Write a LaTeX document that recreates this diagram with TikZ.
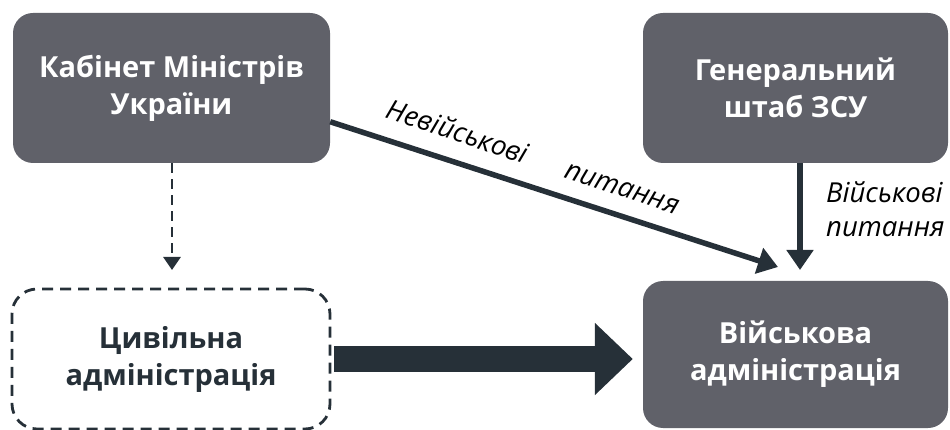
\documentclass[tikz,border=0pt]{standalone}
\usepackage{fontspec}
\setmainfont{Open Sans}
\usetikzlibrary{arrows.meta}
\definecolor{boxgray}{RGB}{96,97,105}
\definecolor{arrowdark}{RGB}{38,48,56}
\tikzset{
  box/.style={fill=boxgray, rounded corners=20pt, text=white, align=center,
    font=\fontsize{29}{37}\selectfont\bfseries, inner sep=0pt},
  dashbox/.style={draw=arrowdark, line width=2.8pt, dash pattern=on 11pt off 7pt,
    rounded corners=25pt, text=arrowdark, align=center,
    font=\fontsize{29}{37}\selectfont\bfseries, inner sep=0pt},
  conn/.style={draw=arrowdark, line width=5.5pt, -{Triangle[width=26pt,length=20pt]}},
  dconn/.style={draw=arrowdark, line width=2.8pt, dash pattern=on 10pt off 6pt,
    -{Triangle[width=17pt,length=13pt]}},
  bigarrow/.style={draw=arrowdark, line width=26pt, -{Triangle[width=70pt,length=38pt]}},
  lbl/.style={font=\fontsize{27.5}{34}\selectfont\itshape, text=black, inner sep=0pt}
}
\begin{document}
\begin{tikzpicture}[x=1pt,y=-1pt]
\useasboundingbox (0,0) rectangle (950,430);
\node[box, minimum width=317pt, minimum height=150pt] (kmu) at (171.5,88) {Кабінет Міністрів\\України};
\node[box, minimum width=305pt, minimum height=150pt] (gsh) at (795.5,88) {Генеральний\\штаб ЗСУ};
\node[box, minimum width=305pt, minimum height=147pt] (vys) at (795.5,354.5) {Військова\\адміністрація};
\node[dashbox, minimum width=318pt, minimum height=140pt] (cyv) at (171,359) {Цивільна\\адміністрація};
\coordinate (dtip) at (778,267);
\coordinate (vtip) at (800,270);
\coordinate (ctip) at (172,270);
\draw[conn] (kmu.-12) -- (dtip);
\draw[conn] (gsh.south -| vtip) -- (vtip);
\draw[dconn] (kmu.south -| ctip) -- (ctip);
\draw[bigarrow, shorten <=3pt, shorten >=10pt] (cyv.east) -- (vys.west |- cyv.east);
\node[lbl, rotate=-18.4] (l1) at (458,131) {Невійськові};
\node[lbl, rotate=-18.4] (l2) at (622,189) {питання};
\node[lbl, anchor=north west, align=left] (l3) at (826,181) {Військові\\питання};
\end{tikzpicture}
\end{document}
